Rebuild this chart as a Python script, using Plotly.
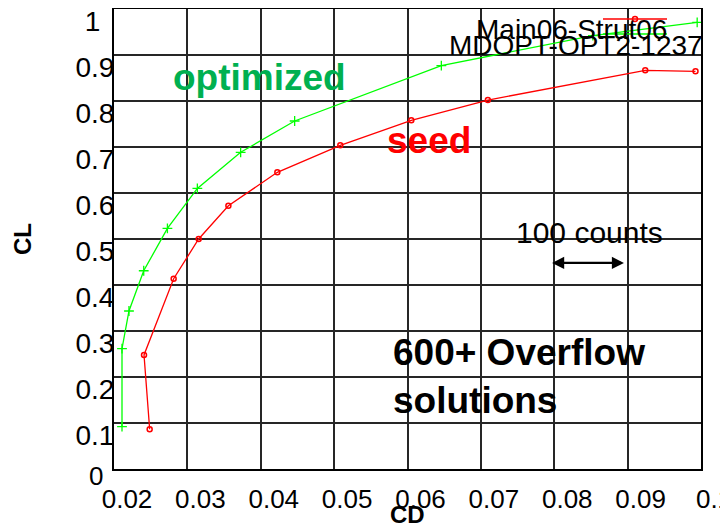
import plotly.graph_objects as go

# ---- data ----
opt_cd = [0.02109, 0.02109, 0.02204, 0.02405, 0.02728, 0.03136, 0.03726, 0.04462, 0.06461, 0.08526, 0.09948]
opt_cl = [0.092, 0.2615, 0.3435, 0.431, 0.523, 0.610, 0.6885, 0.7565, 0.877, 0.942, 0.971]
seed_cd = [0.02486, 0.02409, 0.02813, 0.03154, 0.03559, 0.04226, 0.05084, 0.06052, 0.07095, 0.0924, 0.09925]
seed_cl = [0.0863, 0.248, 0.4137, 0.500, 0.5724, 0.645, 0.7037, 0.758, 0.802, 0.8667, 0.8646]

x_ticks = [0.02, 0.03, 0.04, 0.05, 0.06, 0.07, 0.08, 0.09, 0.1]
x_ticktext = ["0.02", "0.03", "0.04", "0.05", "0.06", "0.07", "0.08", "0.09", "0.1"]
y_ticks = [0.1, 0.2, 0.3, 0.4, 0.5, 0.6, 0.7, 0.8, 0.9, 1.0]
y_ticktext = ["0.1", "0.2", "0.3", "0.4", "0.5", "0.6", "0.7", "0.8", "0.9", "1\u2002"]

legend_names = ["Main06-Strut06", "MDOPT-OPT2-1237"]
count_span = [0.0795, 0.0895]   # "100 counts" = 0.01 in CD
count_y = 0.448

FONT = "Liberation Sans, Arial, sans-serif"
PW, PH = 587, 460  # plot area size in px

fig = go.Figure()
fig.add_trace(go.Scatter(
    x=opt_cd, y=opt_cl, mode="lines+markers",
    line=dict(color="#00ff00", width=1.3),
    marker=dict(symbol="cross-thin-open", size=7, line=dict(color="#00ff00", width=1.3)),
    showlegend=False, cliponaxis=True))
fig.add_trace(go.Scatter(
    x=seed_cd, y=seed_cl, mode="lines+markers",
    line=dict(color="#ff0000", width=1.3),
    marker=dict(symbol="circle-open", size=5, line=dict(color="#ff0000", width=1.5)),
    showlegend=False, cliponaxis=True))

annotations = []
# y tick "0" label
annotations.append(dict(x=-18 / PW, xref="paper", y=0, yref="y", yshift=-7, text="0",
                        showarrow=False, xanchor="center", yanchor="middle",
                        font=dict(family=FONT, size=26, color="black")))
# axis titles
annotations.append(dict(x=(22 - 114) / PW, xref="paper", y=0.5, yref="paper", text="<b>CL</b>",
                        textangle=-90, showarrow=False, xanchor="center", yanchor="middle",
                        font=dict(family=FONT, size=24, color="black")))
annotations.append(dict(x=(408 - 114) / PW, xref="paper", y=(469 - 514) / PH, yref="paper", text="<b>CD</b>",
                        showarrow=False, xanchor="center", yanchor="middle",
                        font=dict(family=FONT, size=24, color="black")))
# labels in plot
annotations.append(dict(x=0.03985, y=0.852, text="<b>optimized</b>", showarrow=False,
                        xanchor="center", yanchor="middle",
                        font=dict(family=FONT, size=37, color="#00b050")))
annotations.append(dict(x=0.06287, y=0.715, text="<b>seed</b>", showarrow=False,
                        xanchor="center", yanchor="middle",
                        font=dict(family=FONT, size=37, color="#ff0000")))
annotations.append(dict(x=0.08474, y=0.515, text="100 counts", showarrow=False,
                        xanchor="center", yanchor="middle",
                        font=dict(family=FONT, size=30, color="black")))
annotations.append(dict(x=count_span[1], y=count_y, ax=count_span[0], ay=count_y,
                        xref="x", yref="y", axref="x", ayref="y", text="",
                        showarrow=True, arrowhead=2, arrowside="end+start",
                        arrowsize=1.1, arrowwidth=2.2, arrowcolor="black",
                        standoff=0, startstandoff=0))
annotations.append(dict(x=0.0577, y=0.254, text="<b>600+ Overflow</b>", showarrow=False,
                        xanchor="left", yanchor="middle",
                        font=dict(family=FONT, size=37, color="black")))
annotations.append(dict(x=0.0577, y=0.148, text="<b>solutions</b>", showarrow=False,
                        xanchor="left", yanchor="middle",
                        font=dict(family=FONT, size=37, color="black")))
# legend texts
annotations.append(dict(x=(571 - 114) / PW, xref="paper", y=(469 - 30) / PH, yref="paper",
                        text=legend_names[0], showarrow=False, xanchor="center", yanchor="middle",
                        font=dict(family=FONT, size=28, color="black")))
annotations.append(dict(x=(576 - 114) / PW, xref="paper", y=(469 - 45) / PH, yref="paper",
                        text=legend_names[1], showarrow=False, xanchor="center", yanchor="middle",
                        font=dict(family=FONT, size=28, color="black")))

shapes = []
lx0, lx1 = (603 - 114) / PW, (667 - 114) / PW
ly_red, ly_green = (469 - 19) / PH, (469 - 34) / PH
shapes.append(dict(type="line", xref="paper", yref="paper", x0=lx0, x1=lx1, y0=ly_red, y1=ly_red,
                   line=dict(color="#ff0000", width=1.3), layer="above"))
shapes.append(dict(type="line", xref="paper", yref="paper", x0=lx0, x1=lx1, y0=ly_green, y1=ly_green,
                   line=dict(color="#00ff00", width=1.3), layer="above"))
mx = (635 - 114) / PW
shapes.append(dict(type="circle", xref="paper", yref="paper",
                   x0=mx - 2.5 / PW, x1=mx + 2.5 / PW, y0=ly_red - 2.5 / PH, y1=ly_red + 2.5 / PH,
                   line=dict(color="#ff0000", width=1.5), layer="above"))

# the page body adds an 8px offset; size the figure so the plot area lands at x 114-701, y 9-469
fig.update_layout(
    width=720, height=519,
    margin=dict(l=106, r=27, t=1, b=58, autoexpand=False),
    paper_bgcolor="white", plot_bgcolor="white",
    font=dict(family=FONT, size=26, color="black"),
    annotations=annotations, shapes=shapes,
    showlegend=False,
)
fig.update_xaxes(
    range=[0.02, 0.1], tickvals=x_ticks, ticktext=x_ticktext,
    showgrid=True, gridcolor="#262626", gridwidth=1.5,
    showline=True, linecolor="black", linewidth=2, mirror=True,
    zeroline=False, ticks="", ticklabelshift=13, ticklabelstandoff=6,
    ticklabeloverflow="allow", automargin=False,
    tickfont=dict(family=FONT, size=26, color="black"),
)
fig.update_yaxes(
    range=[0, 1], tickvals=y_ticks, ticktext=y_ticktext,
    showgrid=True, gridcolor="#262626", gridwidth=1.5,
    showline=True, linecolor="black", linewidth=2, mirror=True,
    zeroline=False, ticks="", ticklabelshift=12, ticklabelstandoff=-8,
    ticklabeloverflow="allow", automargin=False,
    tickfont=dict(family=FONT, size=28, color="black"),
)

fig.write_html("out.html")
